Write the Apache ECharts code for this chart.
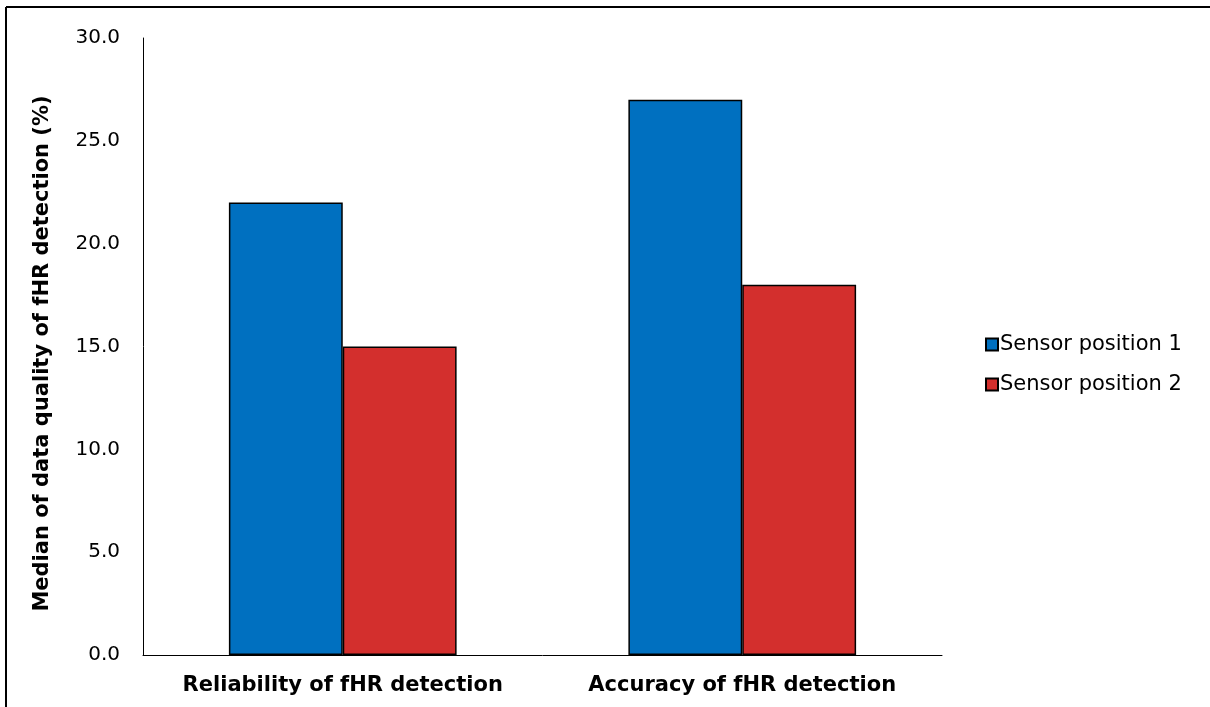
<!DOCTYPE html>
<html>
<head>
<meta charset="utf-8">
<script src="https://cdn.jsdelivr.net/npm/echarts@6/dist/echarts.min.js"></script>
<style>
  html, body { margin: 0; padding: 0; background: #fff; }
  #chart { width: 1210px; height: 707px; }
</style>
</head>
<body>
<div id="chart"></div>
<script>
// Median data quality of fHR detection per sensor position
const categories = ['Reliability of fHR detection', 'Accuracy of fHR detection'];
const seriesNames = ['Sensor position 1', 'Sensor position 2'];
const position1 = [22, 27];
const position2 = [15, 18];
const seriesColors = ['#0070C0', '#D32F2D'];

const FONT = 'Verdana, "DejaVu Sans", sans-serif';

const chart = echarts.init(document.getElementById('chart'), null, { renderer: 'canvas' });

chart.setOption({
  backgroundColor: '#ffffff',
  animation: false,
  graphic: [
    { type: 'line', shape: { x1: 6, y1: 7, x2: 1210, y2: 7 }, style: { stroke: '#000', lineWidth: 2 } },
    { type: 'line', shape: { x1: 6, y1: 7, x2: 6, y2: 707 }, style: { stroke: '#000', lineWidth: 2 } }
  ],
  grid: { left: 143, right: 268, top: 38, bottom: 52, containLabel: false },
  legend: {
    orient: 'vertical',
    left: 980,
    top: 329,
    itemWidth: 12,
    itemHeight: 12,
    itemGap: 19,
    icon: 'rect',
    textStyle: { fontFamily: FONT, fontSize: 21, color: '#000', padding: [0, 0, 0, -3] },
    data: seriesNames
  },
  xAxis: {
    type: 'category',
    data: categories,
    axisLine: { lineStyle: { color: '#000', width: 1 } },
    axisTick: { show: false },
    axisLabel: {
      interval: 0, hideOverlap: false,
      fontFamily: FONT, fontSize: 21, fontWeight: 'bold', color: '#000', margin: 20
    }
  },
  yAxis: {
    type: 'value',
    min: 0,
    max: 30,
    interval: 5,
    name: 'Median of data quality of fHR detection (%)',
    nameLocation: 'middle',
    nameGap: 90,
    nameTextStyle: {
      fontFamily: FONT, fontSize: 21, fontWeight: 'bold', color: '#000',
      padding: [0, 14, 0, 0]
    },
    axisLine: { show: true, lineStyle: { color: '#000', width: 1 } },
    axisTick: { show: false },
    splitLine: { show: false },
    axisLabel: {
      fontFamily: FONT, fontSize: 20, color: '#000', margin: 23,
      padding: [4, 0, 0, 0],
      formatter: v => v.toFixed(1)
    }
  },
  series: [
    {
      name: seriesNames[0], type: 'bar', data: position1,
      barGap: '0%', barCategoryGap: '43%',
      itemStyle: { color: seriesColors[0], borderColor: '#000', borderWidth: 1.5 }
    },
    {
      name: seriesNames[1], type: 'bar', data: position2,
      barGap: '0%', barCategoryGap: '43%',
      itemStyle: { color: seriesColors[1], borderColor: '#000', borderWidth: 1.5 }
    }
  ]
});
</script>
</body>
</html>
